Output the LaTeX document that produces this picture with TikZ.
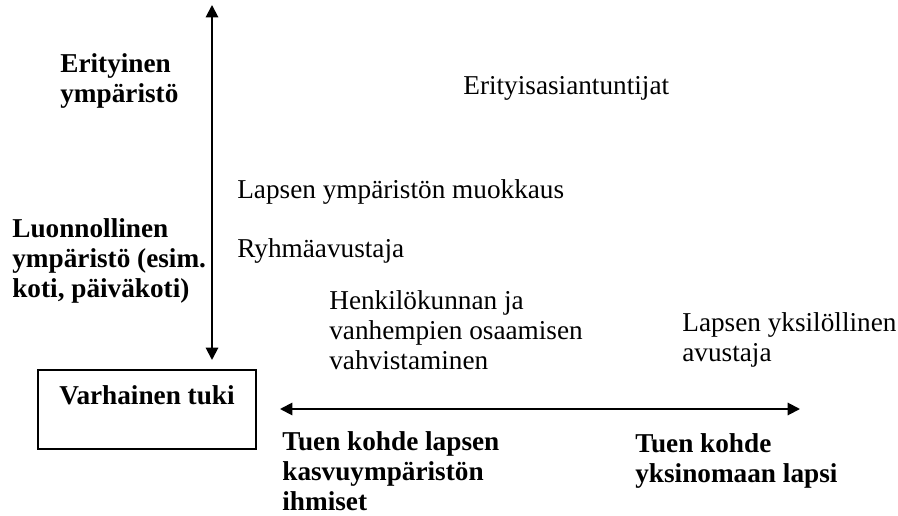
\documentclass[tikz,border=0pt]{standalone}
\usepackage{fontspec}
\setmainfont{Liberation Serif}
\usetikzlibrary{arrows.meta}

\begin{document}
\begin{tikzpicture}[every node/.style={inner sep=0pt,font=\fontsize{15.5}{17}\selectfont},
    txt/.style={anchor=west,align=left},
    hdr/.style={anchor=west,align=left,font=\fontsize{15.5}{17}\selectfont\bfseries},
    axis/.style={line width=1.1pt,{Triangle[length=7pt,width=7pt]}-{Triangle[length=7pt,width=7pt]}}]
    \useasboundingbox (0,0) rectangle (17.96,10.3);
    \node[hdr] (erit) at (1.2,8.68) {Erityinen\\ympäristö};
    \node[hdr] (luonn) at (0.24,5.08) {Luonnollinen\\ympäristö (esim.\\koti, päiväkoti)};
    \node[txt] (asiant) at (9.26,8.54) {Erityisasiantuntijat};
    \node[txt] (muok) at (4.74,6.46) {Lapsen ympäristön muokkaus};
    \node[txt] (ryhma) at (4.74,5.28) {Ryhmäavustaja};
    \node[txt] (henk) at (6.58,3.70) {Henkilökunnan ja\\vanhempien osaamisen\\vahvistaminen};
    \node[txt] (yksil) at (13.64,3.5) {Lapsen yksilöllinen\\avustaja};
    \node[draw,line width=0.8pt,minimum width=4.36cm,minimum height=1.58cm,
      text height=0.38cm,text depth=0.6cm,font=\fontsize{15.5}{17}\selectfont\bfseries]
      (tuki) at (2.94,2.11) {Varhainen tuki};
    \node[hdr] (kohde) at (5.64,0.88) {Tuen kohde lapsen\\kasvuympäristön\\ihmiset};
    \node[hdr] (lapsi) at (12.7,1.08) {Tuen kohde\\yksinomaan lapsi};
    \coordinate (ytop) at (4.24,10.2);
    \coordinate (ybot) at (4.24,3.1);
    \coordinate (xleft) at (5.6,2.12);
    \coordinate (xright) at (16.0,2.12);
    \draw[axis] (ybot) -- (ytop);
    \draw[axis] (xleft) -- (xright);
\end{tikzpicture}
\end{document}
